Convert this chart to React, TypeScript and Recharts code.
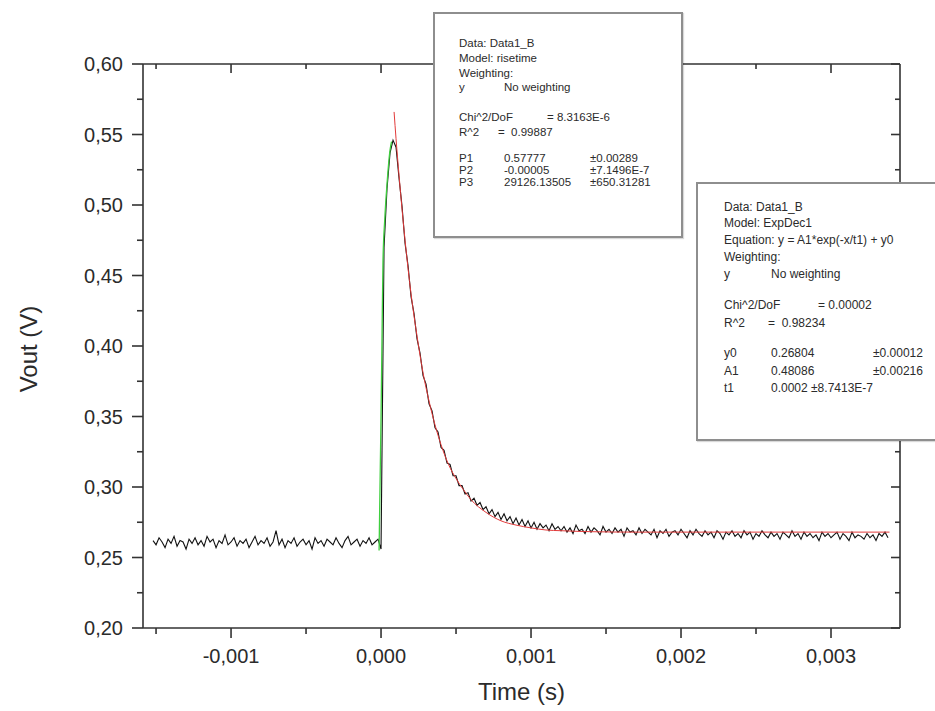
import React from "react";
import { LineChart, Line, XAxis, YAxis, Label } from "recharts";

// oscilloscope trace: first sample time, sample interval (s), voltages (V)
const traceStart = -0.00152;
const traceStep = 0.00002;
const traceVolts = [
  0.262, 0.259, 0.264, 0.261, 0.257, 0.263, 0.26, 0.265, 0.258, 0.262,
  0.261, 0.256, 0.263, 0.26, 0.264, 0.259, 0.262, 0.258, 0.265, 0.261,
  0.263, 0.257, 0.262, 0.26, 0.266, 0.259, 0.261, 0.264, 0.258, 0.262,
  0.26, 0.263, 0.257, 0.261, 0.265, 0.259, 0.262, 0.26, 0.264, 0.258,
  0.261, 0.269, 0.259, 0.263, 0.257, 0.262, 0.26, 0.264, 0.258, 0.261,
  0.263, 0.259, 0.262, 0.256, 0.264, 0.26, 0.262, 0.258, 0.263, 0.261,
  0.259, 0.264, 0.26, 0.257, 0.262, 0.265, 0.259, 0.261, 0.263, 0.258,
  0.262, 0.26, 0.264, 0.259, 0.261, 0.263,
  // pulse
  0.256, 0.47, 0.512, 0.537, 0.546, 0.541,
  0.519, 0.499, 0.473, 0.457, 0.435, 0.423, 0.405, 0.395, 0.379, 0.373,
  0.359, 0.354, 0.342, 0.339, 0.328, 0.326, 0.317, 0.316, 0.308, 0.308,
  0.301, 0.301, 0.295, 0.296, 0.29, 0.292, 0.287, 0.289, 0.284, 0.286,
  0.281, 0.284, 0.279, 0.282, 0.277, 0.281, 0.276, 0.279, 0.274, 0.278,
  0.273, 0.277, 0.272, 0.276, 0.271, 0.275, 0.27, 0.274, 0.271, 0.273,
  0.269, 0.274, 0.27, 0.272,
  // tail
  0.269, 0.272, 0.268, 0.271, 0.267, 0.273, 0.269, 0.27, 0.267, 0.272,
  0.268, 0.271, 0.269, 0.266, 0.272, 0.268, 0.27, 0.267, 0.271, 0.268,
  0.27, 0.265, 0.271, 0.268, 0.269, 0.266, 0.271, 0.267, 0.27, 0.268,
  0.266, 0.27, 0.264, 0.269, 0.267, 0.27, 0.265, 0.268, 0.269, 0.266,
  0.27, 0.267, 0.264, 0.269, 0.266, 0.27, 0.267, 0.265, 0.269, 0.266,
  0.268, 0.264, 0.269, 0.267, 0.263, 0.268, 0.266, 0.269, 0.265, 0.267,
  0.264, 0.269, 0.266, 0.268, 0.263, 0.267, 0.265, 0.269, 0.266, 0.264,
  0.268, 0.265, 0.267, 0.263, 0.268, 0.266, 0.264, 0.269, 0.265, 0.267,
  0.263, 0.268, 0.265, 0.267, 0.264, 0.266, 0.262, 0.268, 0.265, 0.267,
  0.264, 0.266, 0.268, 0.263, 0.267, 0.265, 0.262, 0.268, 0.264, 0.266,
  0.265, 0.263, 0.267, 0.264, 0.266, 0.262, 0.267, 0.265, 0.268, 0.264,
];

// risetime fit (green), [time, volts]
const riseFit: [number, number][] = [
  [-0.000013, 0.255], [0, 0.35], [0.000007, 0.41], [0.000013, 0.46],
  [0.000025, 0.49], [0.00004, 0.515], [0.00006, 0.539], [0.00007, 0.545],
];

// ExpDec1 fit (red), [time, volts]
const decayFit: [number, number][] = [
  [0.000087, 0.566], [0.0001, 0.547], [0.00012, 0.521], [0.00014, 0.497],
  [0.00016, 0.475], [0.00018, 0.455], [0.0002, 0.437], [0.00024, 0.407],
  [0.00028, 0.381], [0.00032, 0.361], [0.00036, 0.344], [0.0004, 0.33],
  [0.00045, 0.316], [0.0005, 0.306], [0.00055, 0.298], [0.0006, 0.291],
  [0.0007, 0.282], [0.0008, 0.276], [0.0009, 0.273], [0.001, 0.271],
  [0.0011, 0.2695], [0.0012, 0.269], [0.0014, 0.2683], [0.0017, 0.268],
  [0.0025, 0.268], [0.00339, 0.268],
];

const xMajor = [-0.001, 0, 0.001, 0.002, 0.003];
const xMinor = [-0.0015, -0.0005, 0.0005, 0.0015, 0.0025];
const yMajor = [0.2, 0.25, 0.3, 0.35, 0.4, 0.45, 0.5, 0.55, 0.6];
const yMinor = [0.225, 0.275, 0.325, 0.375, 0.425, 0.475, 0.525, 0.575];

const risetimeBox = [
  { y: 44, cells: [{ x: 459, t: "Data: Data1_B" }] },
  { y: 59, cells: [{ x: 459, t: "Model: risetime" }] },
  { y: 74, cells: [{ x: 459, t: "Weighting:" }] },
  { y: 88, cells: [{ x: 459, t: "y" }, { x: 504, t: "No weighting" }] },
  { y: 118, cells: [{ x: 459, t: "Chi^2/DoF" }, { x: 547, t: "= 8.3163E-6" }] },
  { y: 133, cells: [{ x: 459, t: "R^2" }, { x: 498, t: "=  0.99887" }] },
  { y: 159, cells: [{ x: 459, t: "P1" }, { x: 504, t: "0.57777" }, { x: 590, t: "±0.00289" }] },
  { y: 171, cells: [{ x: 459, t: "P2" }, { x: 504, t: "-0.00005" }, { x: 590, t: "±7.1496E-7" }] },
  { y: 183, cells: [{ x: 459, t: "P3" }, { x: 504, t: "29126.13505" }, { x: 590, t: "±650.31281" }] },
];

const expDecBox = [
  { y: 207, cells: [{ x: 724, t: "Data: Data1_B" }] },
  { y: 223, cells: [{ x: 724, t: "Model: ExpDec1" }] },
  { y: 240, cells: [{ x: 724, t: "Equation: y = A1*exp(-x/t1) + y0" }] },
  { y: 257, cells: [{ x: 724, t: "Weighting:" }] },
  { y: 274, cells: [{ x: 724, t: "y" }, { x: 771, t: "No weighting" }] },
  { y: 305, cells: [{ x: 724, t: "Chi^2/DoF" }, { x: 818, t: "= 0.00002" }] },
  { y: 323, cells: [{ x: 724, t: "R^2" }, { x: 768, t: "=  0.98234" }] },
  { y: 353, cells: [{ x: 724, t: "y0" }, { x: 771, t: "0.26804" }, { x: 873, t: "±0.00012" }] },
  { y: 371, cells: [{ x: 724, t: "A1" }, { x: 771, t: "0.48086" }, { x: 873, t: "±0.00216" }] },
  { y: 388, cells: [{ x: 724, t: "t1" }, { x: 771, t: "0.0002 ±8.7413E-7" }] },
];

const FONT = '"Liberation Sans", Arial, sans-serif';
const AXIS = "#333";
const TEXT = "#2b2b2b";

const traceData = traceVolts.map((v, i) => ({ t: traceStart + i * traceStep, v }));
const riseData = riseFit.map(([t, v]) => ({ t, v }));
const decayData = decayFit.map(([t, v]) => ({ t, v }));

const xTicks = [...xMajor, ...xMinor].sort((a, b) => a - b);
const yTicks = [...yMajor, ...yMinor].sort((a, b) => a - b);
const isMajor = (v: number, list: number[]) => list.some((m) => Math.abs(m - v) < 1e-9);
const comma = (v: number, d: number) => v.toFixed(d).replace(".", ",");

function BottomTick({ x, y, payload }: any) {
  const major = isMajor(payload.value, xMajor);
  return (
    <g>
      <line x1={x} x2={x} y1={y} y2={y + (major ? 10 : 6)} stroke={AXIS} strokeWidth={1.6} />
      {major && (
        <text x={x} y={y + 35} textAnchor="middle" fontSize={20} fontFamily={FONT} fill={TEXT}>
          {comma(payload.value, 3)}
        </text>
      )}
    </g>
  );
}

function TopTick({ x, y, payload }: any) {
  const major = isMajor(payload.value, xMajor);
  return <line x1={x} x2={x} y1={y} y2={y + (major ? 9 : 5)} stroke={AXIS} strokeWidth={1.6} />;
}

function LeftTick({ x, y, payload }: any) {
  const major = isMajor(payload.value, yMajor);
  return (
    <g>
      <line x1={x} x2={x - (major ? 11 : 6)} y1={y} y2={y} stroke={AXIS} strokeWidth={1.6} />
      {major && (
        <text x={x - 20} y={y + 7} textAnchor="end" fontSize={20} fontFamily={FONT} fill={TEXT}>
          {comma(payload.value, 2)}
        </text>
      )}
    </g>
  );
}

function RightTick({ x, y, payload }: any) {
  const major = isMajor(payload.value, yMajor);
  return <line x1={x} x2={x - (major ? 9 : 5)} y1={y} y2={y} stroke={AXIS} strokeWidth={1.6} />;
}

function FitBox({ left, top, width, height, rows, fontSize }: any) {
  return (
    <>
      <div
        style={{
          position: "absolute",
          left,
          top,
          width,
          height,
          boxSizing: "border-box",
          background: "#fff",
          border: "2px solid #8e8e8e",
          boxShadow: "1px 1px 1px rgba(0,0,0,0.15)",
        }}
      />
      {rows.map((row: any) =>
        row.cells.map((c: any) => (
          <div
            key={`${row.y}-${c.x}`}
            style={{
              position: "absolute",
              left: c.x,
              top: row.y - fontSize * 0.6,
              fontSize,
              lineHeight: 1.2,
              fontFamily: FONT,
              color: TEXT,
              whiteSpace: "pre",
            }}
          >
            {c.t}
          </div>
        ))
      )}
    </>
  );
}

export default function App() {
  return (
    <div style={{ position: "absolute", left: 0, top: 0, width: 935, height: 711, background: "#fff", overflow: "hidden" }}>
      <LineChart width={935} height={711} margin={{ top: 54, right: 25, bottom: 23, left: 83 }}>
        <XAxis
          xAxisId="bottom"
          dataKey="t"
          type="number"
          domain={[-0.001587, 0.00346]}
          allowDataOverflow
          ticks={xTicks}
          interval={0}
          height={60}
          tickSize={0}
          tickMargin={0}
          tick={<BottomTick />}
          axisLine={{ stroke: AXIS, strokeWidth: 1.6 }}
        >
          <Label
            content={({ viewBox }: any) => (
              <text
                x={viewBox.x + viewBox.width / 2}
                y={viewBox.y + 72}
                textAnchor="middle"
                fontSize={24}
                fontFamily={FONT}
                fill={TEXT}
              >
                Time (s)
              </text>
            )}
          />
        </XAxis>
        <XAxis
          xAxisId="top"
          orientation="top"
          dataKey="t"
          type="number"
          domain={[-0.001587, 0.00346]}
          allowDataOverflow
          ticks={xTicks}
          interval={0}
          height={10}
          tickSize={0}
          tickMargin={0}
          tick={<TopTick />}
          axisLine={{ stroke: AXIS, strokeWidth: 1.6 }}
        />
        <YAxis
          yAxisId="left"
          type="number"
          domain={[0.2, 0.6]}
          allowDataOverflow
          ticks={yTicks}
          interval={0}
          width={60}
          tickSize={0}
          tickMargin={0}
          tick={<LeftTick />}
          axisLine={{ stroke: AXIS, strokeWidth: 1.6 }}
        >
          <Label
            content={({ viewBox }: any) => {
              const cx = 28;
              const cy = viewBox.y + viewBox.height / 2 + 3;
              return (
                <text
                  x={cx}
                  y={cy}
                  transform={`rotate(-90 ${cx} ${cy})`}
                  textAnchor="middle"
                  dominantBaseline="central"
                  fontSize={24}
                  fontFamily={FONT}
                  fill={TEXT}
                >
                  Vout (V)
                </text>
              );
            }}
          />
        </YAxis>
        <YAxis
          yAxisId="right"
          orientation="right"
          type="number"
          domain={[0.2, 0.6]}
          allowDataOverflow
          ticks={yTicks}
          interval={0}
          width={10}
          tickSize={0}
          tickMargin={0}
          tick={<RightTick />}
          axisLine={{ stroke: AXIS, strokeWidth: 1.6 }}
        />
        <Line
          xAxisId="top"
          yAxisId="right"
          data={traceData}
          dataKey="v"
          stroke="none"
          dot={false}
          isAnimationActive={false}
        />
        <Line
          xAxisId="bottom"
          yAxisId="left"
          data={traceData}
          dataKey="v"
          type="linear"
          stroke="#111"
          strokeWidth={1.1}
          dot={false}
          isAnimationActive={false}
        />
        <Line
          xAxisId="bottom"
          yAxisId="left"
          data={riseData}
          dataKey="v"
          type="monotone"
          stroke="#3fcf3f"
          strokeWidth={1.3}
          dot={false}
          isAnimationActive={false}
        />
        <Line
          xAxisId="bottom"
          yAxisId="left"
          data={decayData}
          dataKey="v"
          type="monotone"
          stroke="#e23a3a"
          strokeWidth={1}
          dot={false}
          isAnimationActive={false}
        />
      </LineChart>
      <FitBox left={433} top={12} width={250} height={226} rows={risetimeBox} fontSize={11.5} />
      <FitBox left={696} top={182} width={245} height={259} rows={expDecBox} fontSize={12} />
    </div>
  );
}
